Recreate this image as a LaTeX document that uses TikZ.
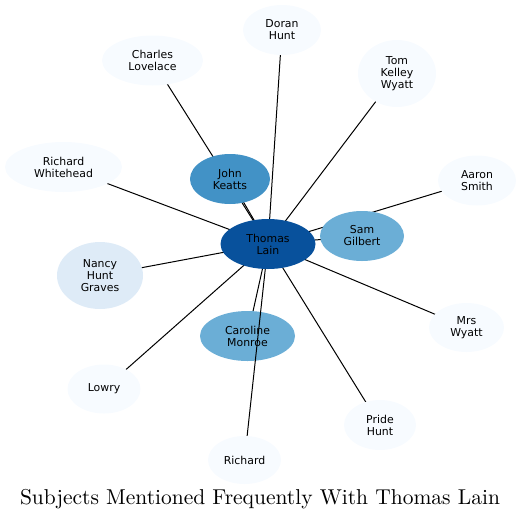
\documentclass[tikz,border=0pt]{standalone}
\usepackage{fontspec}
\newfontfamily\dejavu{DejaVu Sans}
\newfontfamily\titlefont{lmroman10-regular}[Extension=.otf]
\usepackage{tikz}
\usetikzlibrary{shapes.geometric,backgrounds}
\definecolor{bluedark}{HTML}{08519C}
\definecolor{bluemid}{HTML}{4292C6}
\definecolor{bluelight}{HTML}{6BAED6}
\definecolor{bluepale}{HTML}{DEEBF7}
\definecolor{bluefaint}{HTML}{F7FBFF}

\begin{document}
\begin{tikzpicture}[x=1pt,y=-1pt,
	person/.style={ellipse,inner sep=0pt,align=center,
		font=\dejavu\fontsize{10.9}{12}\selectfont},
	link/.style={line width=1pt}]
	\useasboundingbox (0,0) rectangle (521,520);

	% centre and the people around it
	\node[person,fill=bluedark,minimum width=95pt,minimum height=50pt] (thomas) at (268,244) {Thomas\\Lain};
	\node[person,fill=bluemid,minimum width=80pt,minimum height=50pt] (john) at (230,179) {John\\Keatts};
	\node[person,fill=bluelight,minimum width=84pt,minimum height=50pt] (sam) at (362,236) {Sam\\Gilbert};
	\node[person,fill=bluelight,minimum width=95pt,minimum height=50pt] (caroline) at (247.5,336) {Caroline\\Monroe};
	\node[person,fill=bluepale,minimum width=86pt,minimum height=67pt] (nancy) at (100,275.5) {Nancy\\Hunt\\Graves};
	\node[person,fill=bluefaint,minimum width=78pt,minimum height=50pt] (doran) at (282,30) {Doran\\Hunt};
	\node[person,fill=bluefaint,minimum width=101pt,minimum height=50pt] (charles) at (152.5,60.5) {Charles\\Lovelace};
	\node[person,fill=bluefaint,minimum width=78pt,minimum height=67pt] (tom) at (397,73.5) {Tom\\Kelley\\Wyatt};
	\node[person,fill=bluefaint,minimum width=117pt,minimum height=50pt] (whitehead) at (63.5,167) {Richard\\Whitehead};
	\node[person,fill=bluefaint,minimum width=78pt,minimum height=50pt] (aaron) at (477,180.5) {Aaron\\Smith};
	\node[person,fill=bluefaint,minimum width=75pt,minimum height=49pt] (mrswyatt) at (466.5,327.5) {Mrs\\Wyatt};
	\node[person,fill=bluefaint,minimum width=73pt,minimum height=49pt] (lowry) at (104,389) {Lowry};
	\node[person,fill=bluefaint,minimum width=72pt,minimum height=50pt] (pride) at (380,425) {Pride\\Hunt};
	\node[person,fill=bluefaint,minimum width=73pt,minimum height=48pt] (richard) at (244.5,460) {Richard};

	% edges go under the nodes, centre to centre
	\begin{pgfonlayer}{background}
		\foreach \p in {doran,charles,tom,whitehead,john,aaron,sam,nancy,mrswyatt,lowry,caroline,pride}
			\draw[link] (thomas.center) -- (\p.center);
	\end{pgfonlayer}
	% this one crosses Caroline Monroe on top
	\draw[link] (thomas) -- (richard);

	\node[anchor=base,font=\titlefont\fontsize{21.5}{25}\selectfont] (title) at (260,504) {Subjects Mentioned Frequently With Thomas Lain};
\end{tikzpicture}
\end{document}
